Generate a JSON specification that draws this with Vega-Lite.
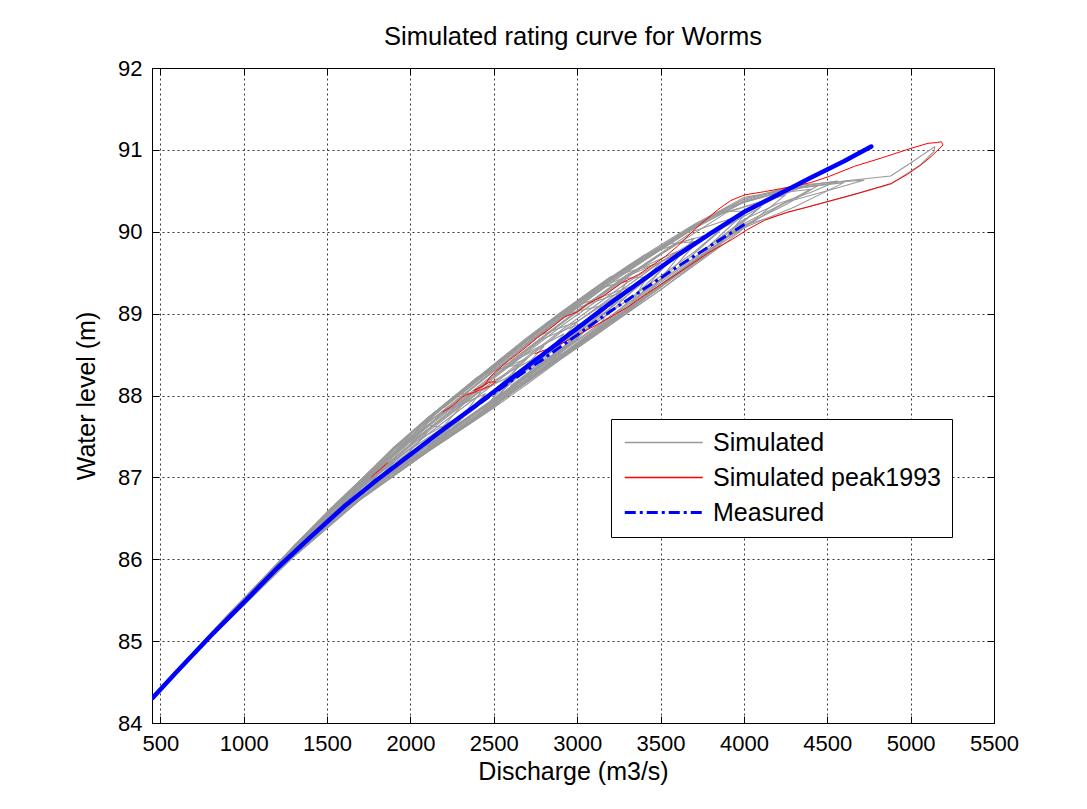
{
  "$schema": "https://vega.github.io/schema/vega-lite/v6.json",
  "autosize": {"type": "none"},
  "padding": {"left": 152, "top": 68, "right": 93, "bottom": 86},
  "width": 842,
  "height": 655,
  "background": "white",
  "title": {
    "text": "Simulated rating curve for Worms",
    "fontSize": 25.5,
    "fontWeight": "normal",
    "color": "black",
    "anchor": "middle",
    "baseline": "bottom",
    "offset": -18
  },
  "datasets": {
    "sim": [
      {"series": "Simulated", "run": "g1", "q": 455, "h": 84.31},
      {"series": "Simulated", "run": "g1", "q": 500, "h": 84.43},
      {"series": "Simulated", "run": "g1", "q": 900, "h": 85.31},
      {"series": "Simulated", "run": "g1", "q": 1300, "h": 86.15},
      {"series": "Simulated", "run": "g1", "q": 1500, "h": 86.48},
      {"series": "Simulated", "run": "g1", "q": 1300, "h": 86.04},
      {"series": "Simulated", "run": "g1", "q": 900, "h": 85.25},
      {"series": "Simulated", "run": "g1", "q": 700, "h": 84.84},

      {"series": "Simulated", "run": "g2", "q": 455, "h": 84.31},
      {"series": "Simulated", "run": "g2", "q": 500, "h": 84.43},
      {"series": "Simulated", "run": "g2", "q": 900, "h": 85.31},
      {"series": "Simulated", "run": "g2", "q": 1100, "h": 85.71},
      {"series": "Simulated", "run": "g2", "q": 1300, "h": 86.16},
      {"series": "Simulated", "run": "g2", "q": 1500, "h": 86.57},
      {"series": "Simulated", "run": "g2", "q": 1700, "h": 86.96},
      {"series": "Simulated", "run": "g2", "q": 1900, "h": 87.18},
      {"series": "Simulated", "run": "g2", "q": 1700, "h": 86.76},
      {"series": "Simulated", "run": "g2", "q": 1300, "h": 86.05},
      {"series": "Simulated", "run": "g2", "q": 900, "h": 85.25},

      {"series": "Simulated", "run": "g3", "q": 500, "h": 84.42},
      {"series": "Simulated", "run": "g3", "q": 900, "h": 85.30},
      {"series": "Simulated", "run": "g3", "q": 1300, "h": 86.14},
      {"series": "Simulated", "run": "g3", "q": 1700, "h": 86.92},
      {"series": "Simulated", "run": "g3", "q": 2100, "h": 87.64},
      {"series": "Simulated", "run": "g3", "q": 2230, "h": 87.60},
      {"series": "Simulated", "run": "g3", "q": 2100, "h": 87.31},
      {"series": "Simulated", "run": "g3", "q": 1700, "h": 86.73},
      {"series": "Simulated", "run": "g3", "q": 1300, "h": 86.03},
      {"series": "Simulated", "run": "g3", "q": 900, "h": 85.24},

      {"series": "Simulated", "run": "g4", "q": 900, "h": 85.31},
      {"series": "Simulated", "run": "g4", "q": 1300, "h": 86.16},
      {"series": "Simulated", "run": "g4", "q": 1500, "h": 86.55},
      {"series": "Simulated", "run": "g4", "q": 1700, "h": 86.96},
      {"series": "Simulated", "run": "g4", "q": 1900, "h": 87.37},
      {"series": "Simulated", "run": "g4", "q": 2100, "h": 87.72},
      {"series": "Simulated", "run": "g4", "q": 2300, "h": 88.02},
      {"series": "Simulated", "run": "g4", "q": 2420, "h": 88.04},
      {"series": "Simulated", "run": "g4", "q": 2300, "h": 87.71},
      {"series": "Simulated", "run": "g4", "q": 2100, "h": 87.38},
      {"series": "Simulated", "run": "g4", "q": 1700, "h": 86.77},
      {"series": "Simulated", "run": "g4", "q": 1300, "h": 86.05},
      {"series": "Simulated", "run": "g4", "q": 900, "h": 85.25},

      {"series": "Simulated", "run": "g5", "q": 900, "h": 85.30},
      {"series": "Simulated", "run": "g5", "q": 1300, "h": 86.14},
      {"series": "Simulated", "run": "g5", "q": 1700, "h": 86.93},
      {"series": "Simulated", "run": "g5", "q": 2100, "h": 87.66},
      {"series": "Simulated", "run": "g5", "q": 2300, "h": 87.98},
      {"series": "Simulated", "run": "g5", "q": 2500, "h": 88.31},
      {"series": "Simulated", "run": "g5", "q": 2650, "h": 88.38},
      {"series": "Simulated", "run": "g5", "q": 2500, "h": 87.87},
      {"series": "Simulated", "run": "g5", "q": 2100, "h": 87.32},
      {"series": "Simulated", "run": "g5", "q": 1700, "h": 86.74},
      {"series": "Simulated", "run": "g5", "q": 1300, "h": 86.04},
      {"series": "Simulated", "run": "g5", "q": 900, "h": 85.24},

      {"series": "Simulated", "run": "g6", "q": 1300, "h": 86.13},
      {"series": "Simulated", "run": "g6", "q": 1700, "h": 86.90},
      {"series": "Simulated", "run": "g6", "q": 2100, "h": 87.61},
      {"series": "Simulated", "run": "g6", "q": 2500, "h": 88.24},
      {"series": "Simulated", "run": "g6", "q": 2700, "h": 88.52},
      {"series": "Simulated", "run": "g6", "q": 2920, "h": 88.75},
      {"series": "Simulated", "run": "g6", "q": 2700, "h": 88.26},
      {"series": "Simulated", "run": "g6", "q": 2500, "h": 87.85},
      {"series": "Simulated", "run": "g6", "q": 2100, "h": 87.31},
      {"series": "Simulated", "run": "g6", "q": 1700, "h": 86.73},
      {"series": "Simulated", "run": "g6", "q": 1300, "h": 86.03},

      {"series": "Simulated", "run": "g7", "q": 1300, "h": 86.15},
      {"series": "Simulated", "run": "g7", "q": 1700, "h": 86.95},
      {"series": "Simulated", "run": "g7", "q": 1900, "h": 87.30},
      {"series": "Simulated", "run": "g7", "q": 2100, "h": 87.69},
      {"series": "Simulated", "run": "g7", "q": 2300, "h": 88.03},
      {"series": "Simulated", "run": "g7", "q": 2500, "h": 88.35},
      {"series": "Simulated", "run": "g7", "q": 2700, "h": 88.68},
      {"series": "Simulated", "run": "g7", "q": 2900, "h": 88.98},
      {"series": "Simulated", "run": "g7", "q": 3150, "h": 89.10},
      {"series": "Simulated", "run": "g7", "q": 2900, "h": 88.51},
      {"series": "Simulated", "run": "g7", "q": 2700, "h": 88.20},
      {"series": "Simulated", "run": "g7", "q": 2500, "h": 87.91},
      {"series": "Simulated", "run": "g7", "q": 2100, "h": 87.35},
      {"series": "Simulated", "run": "g7", "q": 1700, "h": 86.75},

      {"series": "Simulated", "run": "g8", "q": 1700, "h": 86.89},
      {"series": "Simulated", "run": "g8", "q": 2100, "h": 87.58},
      {"series": "Simulated", "run": "g8", "q": 2500, "h": 88.21},
      {"series": "Simulated", "run": "g8", "q": 2900, "h": 88.84},
      {"series": "Simulated", "run": "g8", "q": 3100, "h": 89.13},
      {"series": "Simulated", "run": "g8", "q": 3300, "h": 89.43},
      {"series": "Simulated", "run": "g8", "q": 3420, "h": 89.45},
      {"series": "Simulated", "run": "g8", "q": 3300, "h": 89.04},
      {"series": "Simulated", "run": "g8", "q": 3100, "h": 88.74},
      {"series": "Simulated", "run": "g8", "q": 2900, "h": 88.46},
      {"series": "Simulated", "run": "g8", "q": 2500, "h": 87.87},
      {"series": "Simulated", "run": "g8", "q": 2100, "h": 87.32},

      {"series": "Simulated", "run": "g9", "q": 1700, "h": 86.93},
      {"series": "Simulated", "run": "g9", "q": 2100, "h": 87.66},
      {"series": "Simulated", "run": "g9", "q": 2500, "h": 88.31},
      {"series": "Simulated", "run": "g9", "q": 2900, "h": 88.94},
      {"series": "Simulated", "run": "g9", "q": 3300, "h": 89.52},
      {"series": "Simulated", "run": "g9", "q": 3550, "h": 89.85},
      {"series": "Simulated", "run": "g9", "q": 3720, "h": 89.88},
      {"series": "Simulated", "run": "g9", "q": 3550, "h": 89.49},
      {"series": "Simulated", "run": "g9", "q": 3300, "h": 89.12},
      {"series": "Simulated", "run": "g9", "q": 2900, "h": 88.53},
      {"series": "Simulated", "run": "g9", "q": 2500, "h": 87.93},
      {"series": "Simulated", "run": "g9", "q": 2100, "h": 87.36},

      {"series": "Simulated", "run": "g10", "q": 1700, "h": 86.96},
      {"series": "Simulated", "run": "g10", "q": 1900, "h": 87.36},
      {"series": "Simulated", "run": "g10", "q": 2100, "h": 87.72},
      {"series": "Simulated", "run": "g10", "q": 2300, "h": 88.05},
      {"series": "Simulated", "run": "g10", "q": 2500, "h": 88.38},
      {"series": "Simulated", "run": "g10", "q": 2700, "h": 88.71},
      {"series": "Simulated", "run": "g10", "q": 2900, "h": 89.01},
      {"series": "Simulated", "run": "g10", "q": 3100, "h": 89.30},
      {"series": "Simulated", "run": "g10", "q": 3300, "h": 89.58},
      {"series": "Simulated", "run": "g10", "q": 3500, "h": 89.84},
      {"series": "Simulated", "run": "g10", "q": 3700, "h": 90.09},
      {"series": "Simulated", "run": "g10", "q": 3850, "h": 90.25},
      {"series": "Simulated", "run": "g10", "q": 4020, "h": 90.25},
      {"series": "Simulated", "run": "g10", "q": 3850, "h": 89.82},
      {"series": "Simulated", "run": "g10", "q": 3700, "h": 89.60},
      {"series": "Simulated", "run": "g10", "q": 3500, "h": 89.29},
      {"series": "Simulated", "run": "g10", "q": 3300, "h": 89.01},
      {"series": "Simulated", "run": "g10", "q": 3100, "h": 88.72},
      {"series": "Simulated", "run": "g10", "q": 2900, "h": 88.44},
      {"series": "Simulated", "run": "g10", "q": 2700, "h": 88.14},
      {"series": "Simulated", "run": "g10", "q": 2500, "h": 87.85},
      {"series": "Simulated", "run": "g10", "q": 2100, "h": 87.31},

      {"series": "Simulated", "run": "g11", "q": 2100, "h": 87.70},
      {"series": "Simulated", "run": "g11", "q": 2500, "h": 88.36},
      {"series": "Simulated", "run": "g11", "q": 2900, "h": 88.99},
      {"series": "Simulated", "run": "g11", "q": 3300, "h": 89.56},
      {"series": "Simulated", "run": "g11", "q": 3700, "h": 90.06},
      {"series": "Simulated", "run": "g11", "q": 4000, "h": 90.38},
      {"series": "Simulated", "run": "g11", "q": 4200, "h": 90.50},
      {"series": "Simulated", "run": "g11", "q": 4350, "h": 90.55},
      {"series": "Simulated", "run": "g11", "q": 4200, "h": 90.42},
      {"series": "Simulated", "run": "g11", "q": 4000, "h": 90.22},
      {"series": "Simulated", "run": "g11", "q": 3700, "h": 89.66},
      {"series": "Simulated", "run": "g11", "q": 3300, "h": 89.05},
      {"series": "Simulated", "run": "g11", "q": 2900, "h": 88.47},
      {"series": "Simulated", "run": "g11", "q": 2500, "h": 87.88},

      {"series": "Simulated", "run": "g12", "q": 2500, "h": 88.33},
      {"series": "Simulated", "run": "g12", "q": 2900, "h": 88.96},
      {"series": "Simulated", "run": "g12", "q": 3300, "h": 89.54},
      {"series": "Simulated", "run": "g12", "q": 3700, "h": 90.04},
      {"series": "Simulated", "run": "g12", "q": 4000, "h": 90.36},
      {"series": "Simulated", "run": "g12", "q": 4300, "h": 90.54},
      {"series": "Simulated", "run": "g12", "q": 4560, "h": 90.62},
      {"series": "Simulated", "run": "g12", "q": 4400, "h": 90.48},
      {"series": "Simulated", "run": "g12", "q": 4200, "h": 90.34},
      {"series": "Simulated", "run": "g12", "q": 4000, "h": 90.15},
      {"series": "Simulated", "run": "g12", "q": 3700, "h": 89.68},
      {"series": "Simulated", "run": "g12", "q": 3300, "h": 89.08},
      {"series": "Simulated", "run": "g12", "q": 2900, "h": 88.49},

      {"series": "Simulated", "run": "g13", "q": 2500, "h": 88.35},
      {"series": "Simulated", "run": "g13", "q": 2900, "h": 88.98},
      {"series": "Simulated", "run": "g13", "q": 3300, "h": 89.55},
      {"series": "Simulated", "run": "g13", "q": 3700, "h": 90.07},
      {"series": "Simulated", "run": "g13", "q": 4000, "h": 90.40},
      {"series": "Simulated", "run": "g13", "q": 4300, "h": 90.56},
      {"series": "Simulated", "run": "g13", "q": 4500, "h": 90.60},
      {"series": "Simulated", "run": "g13", "q": 4720, "h": 90.63},
      {"series": "Simulated", "run": "g13", "q": 4500, "h": 90.50},
      {"series": "Simulated", "run": "g13", "q": 4250, "h": 90.36},
      {"series": "Simulated", "run": "g13", "q": 4000, "h": 90.10},
      {"series": "Simulated", "run": "g13", "q": 3700, "h": 89.63},
      {"series": "Simulated", "run": "g13", "q": 3300, "h": 89.02},
      {"series": "Simulated", "run": "g13", "q": 2900, "h": 88.45},

      {"series": "Simulated", "run": "g14", "q": 2500, "h": 88.37},
      {"series": "Simulated", "run": "g14", "q": 2900, "h": 89.00},
      {"series": "Simulated", "run": "g14", "q": 3300, "h": 89.57},
      {"series": "Simulated", "run": "g14", "q": 3700, "h": 90.08},
      {"series": "Simulated", "run": "g14", "q": 4000, "h": 90.42},
      {"series": "Simulated", "run": "g14", "q": 4300, "h": 90.52},
      {"series": "Simulated", "run": "g14", "q": 4600, "h": 90.62},
      {"series": "Simulated", "run": "g14", "q": 4880, "h": 90.68},
      {"series": "Simulated", "run": "g14", "q": 5000, "h": 90.84},
      {"series": "Simulated", "run": "g14", "q": 5145, "h": 91.04},
      {"series": "Simulated", "run": "g14", "q": 5140, "h": 90.98},
      {"series": "Simulated", "run": "g14", "q": 5060, "h": 90.82},
      {"series": "Simulated", "run": "g14", "q": 4880, "h": 90.58},
      {"series": "Simulated", "run": "g14", "q": 4600, "h": 90.42},
      {"series": "Simulated", "run": "g14", "q": 4300, "h": 90.26},
      {"series": "Simulated", "run": "g14", "q": 4000, "h": 90.08},
      {"series": "Simulated", "run": "g14", "q": 3700, "h": 89.64},
      {"series": "Simulated", "run": "g14", "q": 3300, "h": 89.06},
      {"series": "Simulated", "run": "g14", "q": 2900, "h": 88.47},

      {"series": "Simulated", "run": "g15", "q": 1300, "h": 86.11},
      {"series": "Simulated", "run": "g15", "q": 1700, "h": 86.87},
      {"series": "Simulated", "run": "g15", "q": 2100, "h": 87.55},
      {"series": "Simulated", "run": "g15", "q": 2500, "h": 88.18},
      {"series": "Simulated", "run": "g15", "q": 2800, "h": 88.52},
      {"series": "Simulated", "run": "g15", "q": 2500, "h": 87.96},
      {"series": "Simulated", "run": "g15", "q": 2100, "h": 87.39},
      {"series": "Simulated", "run": "g15", "q": 1700, "h": 86.78},

      {"series": "Simulated", "run": "g16", "q": 1700, "h": 86.86},
      {"series": "Simulated", "run": "g16", "q": 2100, "h": 87.52},
      {"series": "Simulated", "run": "g16", "q": 2500, "h": 88.14},
      {"series": "Simulated", "run": "g16", "q": 2900, "h": 88.77},
      {"series": "Simulated", "run": "g16", "q": 3300, "h": 89.30},
      {"series": "Simulated", "run": "g16", "q": 2900, "h": 88.55},
      {"series": "Simulated", "run": "g16", "q": 2500, "h": 87.94},
      {"series": "Simulated", "run": "g16", "q": 2100, "h": 87.37},

      {"series": "Simulated", "run": "g17", "q": 900, "h": 85.29},
      {"series": "Simulated", "run": "g17", "q": 1300, "h": 86.12},
      {"series": "Simulated", "run": "g17", "q": 1700, "h": 86.88},
      {"series": "Simulated", "run": "g17", "q": 2000, "h": 87.32},
      {"series": "Simulated", "run": "g17", "q": 1700, "h": 86.79},
      {"series": "Simulated", "run": "g17", "q": 1300, "h": 86.06},

      {"series": "Simulated", "run": "g18", "q": 1700, "h": 86.91},
      {"series": "Simulated", "run": "g18", "q": 2100, "h": 87.62},
      {"series": "Simulated", "run": "g18", "q": 2500, "h": 88.26},
      {"series": "Simulated", "run": "g18", "q": 2900, "h": 88.87},
      {"series": "Simulated", "run": "g18", "q": 3300, "h": 89.48},
      {"series": "Simulated", "run": "g18", "q": 3600, "h": 89.76},
      {"series": "Simulated", "run": "g18", "q": 3300, "h": 89.05},
      {"series": "Simulated", "run": "g18", "q": 2900, "h": 88.48},
      {"series": "Simulated", "run": "g18", "q": 2500, "h": 87.89},
      {"series": "Simulated", "run": "g18", "q": 2100, "h": 87.33},

      {"series": "Simulated", "run": "g19", "q": 1300, "h": 86.15},
      {"series": "Simulated", "run": "g19", "q": 1700, "h": 86.94},
      {"series": "Simulated", "run": "g19", "q": 2100, "h": 87.68},
      {"series": "Simulated", "run": "g19", "q": 2350, "h": 87.98},
      {"series": "Simulated", "run": "g19", "q": 2100, "h": 87.39},
      {"series": "Simulated", "run": "g19", "q": 1700, "h": 86.78},
      {"series": "Simulated", "run": "g19", "q": 1300, "h": 86.06},

      {"series": "Simulated", "run": "g20", "q": 1500, "h": 86.56},
      {"series": "Simulated", "run": "g20", "q": 1900, "h": 87.33},
      {"series": "Simulated", "run": "g20", "q": 2300, "h": 88.03},
      {"series": "Simulated", "run": "g20", "q": 2700, "h": 88.68},
      {"series": "Simulated", "run": "g20", "q": 3000, "h": 88.90},
      {"series": "Simulated", "run": "g20", "q": 2700, "h": 88.20},
      {"series": "Simulated", "run": "g20", "q": 2300, "h": 87.62},
      {"series": "Simulated", "run": "g20", "q": 1900, "h": 87.06},

      {"series": "Simulated", "run": "g21", "q": 1900, "h": 87.29},
      {"series": "Simulated", "run": "g21", "q": 2300, "h": 87.97},
      {"series": "Simulated", "run": "g21", "q": 2700, "h": 88.62},
      {"series": "Simulated", "run": "g21", "q": 3000, "h": 89.07},
      {"series": "Simulated", "run": "g21", "q": 3250, "h": 89.25},
      {"series": "Simulated", "run": "g21", "q": 3000, "h": 88.69},
      {"series": "Simulated", "run": "g21", "q": 2700, "h": 88.24},
      {"series": "Simulated", "run": "g21", "q": 2300, "h": 87.65},
      {"series": "Simulated", "run": "g21", "q": 1900, "h": 87.07},

      {"series": "Simulated", "run": "g22", "q": 1300, "h": 86.16},
      {"series": "Simulated", "run": "g22", "q": 1500, "h": 86.58},
      {"series": "Simulated", "run": "g22", "q": 1700, "h": 86.97},
      {"series": "Simulated", "run": "g22", "q": 1900, "h": 87.36},
      {"series": "Simulated", "run": "g22", "q": 2100, "h": 87.55},
      {"series": "Simulated", "run": "g22", "q": 1900, "h": 87.10},
      {"series": "Simulated", "run": "g22", "q": 1700, "h": 86.79},
      {"series": "Simulated", "run": "g22", "q": 1500, "h": 86.44},

      {"series": "Simulated", "run": "g23", "q": 2500, "h": 88.24},
      {"series": "Simulated", "run": "g23", "q": 2900, "h": 88.87},
      {"series": "Simulated", "run": "g23", "q": 3300, "h": 89.46},
      {"series": "Simulated", "run": "g23", "q": 3600, "h": 89.86},
      {"series": "Simulated", "run": "g23", "q": 3850, "h": 90.00},
      {"series": "Simulated", "run": "g23", "q": 3600, "h": 89.55},
      {"series": "Simulated", "run": "g23", "q": 3300, "h": 89.10},
      {"series": "Simulated", "run": "g23", "q": 2900, "h": 88.52},
      {"series": "Simulated", "run": "g23", "q": 2500, "h": 87.92},

      {"series": "Simulated", "run": "g24", "q": 2300, "h": 88.02},
      {"series": "Simulated", "run": "g24", "q": 2700, "h": 88.67},
      {"series": "Simulated", "run": "g24", "q": 3100, "h": 89.27},
      {"series": "Simulated", "run": "g24", "q": 3500, "h": 89.80},
      {"series": "Simulated", "run": "g24", "q": 3800, "h": 90.18},
      {"series": "Simulated", "run": "g24", "q": 4150, "h": 90.40},
      {"series": "Simulated", "run": "g24", "q": 3800, "h": 89.76},
      {"series": "Simulated", "run": "g24", "q": 3500, "h": 89.32},
      {"series": "Simulated", "run": "g24", "q": 3100, "h": 88.76},
      {"series": "Simulated", "run": "g24", "q": 2700, "h": 88.17},
      {"series": "Simulated", "run": "g24", "q": 2300, "h": 87.60},

      {"series": "Simulated", "run": "g25", "q": 1700, "h": 86.88},
      {"series": "Simulated", "run": "g25", "q": 2100, "h": 87.57},
      {"series": "Simulated", "run": "g25", "q": 2400, "h": 88.03},
      {"series": "Simulated", "run": "g25", "q": 2600, "h": 88.24},
      {"series": "Simulated", "run": "g25", "q": 2400, "h": 87.72},
      {"series": "Simulated", "run": "g25", "q": 2100, "h": 87.31},
      {"series": "Simulated", "run": "g25", "q": 1700, "h": 86.73},

      {"series": "Simulated", "run": "g26", "q": 2100, "h": 87.72},
      {"series": "Simulated", "run": "g26", "q": 2500, "h": 88.38},
      {"series": "Simulated", "run": "g26", "q": 2900, "h": 89.01},
      {"series": "Simulated", "run": "g26", "q": 3200, "h": 89.45},
      {"series": "Simulated", "run": "g26", "q": 3500, "h": 89.62},
      {"series": "Simulated", "run": "g26", "q": 3200, "h": 89.02},
      {"series": "Simulated", "run": "g26", "q": 2900, "h": 88.57},
      {"series": "Simulated", "run": "g26", "q": 2500, "h": 87.95},
      {"series": "Simulated", "run": "g26", "q": 2100, "h": 87.38},

      {"series": "Simulated", "run": "g27", "q": 2500, "h": 88.16},
      {"series": "Simulated", "run": "g27", "q": 2900, "h": 88.79},
      {"series": "Simulated", "run": "g27", "q": 3300, "h": 89.38},
      {"series": "Simulated", "run": "g27", "q": 3700, "h": 89.88},
      {"series": "Simulated", "run": "g27", "q": 3300, "h": 89.22},
      {"series": "Simulated", "run": "g27", "q": 2900, "h": 88.62},
      {"series": "Simulated", "run": "g27", "q": 2500, "h": 88.00},

      {"series": "Simulated", "run": "g28", "q": 2700, "h": 88.63},
      {"series": "Simulated", "run": "g28", "q": 3100, "h": 89.24},
      {"series": "Simulated", "run": "g28", "q": 3500, "h": 89.78},
      {"series": "Simulated", "run": "g28", "q": 3900, "h": 90.30},
      {"series": "Simulated", "run": "g28", "q": 4200, "h": 90.47},
      {"series": "Simulated", "run": "g28", "q": 4400, "h": 90.52},
      {"series": "Simulated", "run": "g28", "q": 4200, "h": 90.30},
      {"series": "Simulated", "run": "g28", "q": 3900, "h": 89.93},
      {"series": "Simulated", "run": "g28", "q": 3500, "h": 89.34},
      {"series": "Simulated", "run": "g28", "q": 3100, "h": 88.78},
      {"series": "Simulated", "run": "g28", "q": 2700, "h": 88.19},

      {"series": "Simulated", "run": "g29", "q": 1500, "h": 86.54},
      {"series": "Simulated", "run": "g29", "q": 1900, "h": 87.28},
      {"series": "Simulated", "run": "g29", "q": 2200, "h": 87.80},
      {"series": "Simulated", "run": "g29", "q": 2450, "h": 88.02},
      {"series": "Simulated", "run": "g29", "q": 2200, "h": 87.49},
      {"series": "Simulated", "run": "g29", "q": 1900, "h": 87.06},
      {"series": "Simulated", "run": "g29", "q": 1500, "h": 86.42},

      {"series": "Simulated", "run": "g30", "q": 2000, "h": 87.42},
      {"series": "Simulated", "run": "g30", "q": 2400, "h": 88.07},
      {"series": "Simulated", "run": "g30", "q": 2800, "h": 88.70},
      {"series": "Simulated", "run": "g30", "q": 3050, "h": 88.90},
      {"series": "Simulated", "run": "g30", "q": 2800, "h": 88.32},
      {"series": "Simulated", "run": "g30", "q": 2400, "h": 87.74},
      {"series": "Simulated", "run": "g30", "q": 2000, "h": 87.19},

      {"series": "Simulated", "run": "g31", "q": 2200, "h": 87.85},
      {"series": "Simulated", "run": "g31", "q": 2600, "h": 88.49},
      {"series": "Simulated", "run": "g31", "q": 3000, "h": 89.10},
      {"series": "Simulated", "run": "g31", "q": 3350, "h": 89.35},
      {"series": "Simulated", "run": "g31", "q": 3000, "h": 88.70},
      {"series": "Simulated", "run": "g31", "q": 2600, "h": 88.10},
      {"series": "Simulated", "run": "g31", "q": 2200, "h": 87.51},

      {"series": "Simulated", "run": "g32", "q": 1500, "h": 86.50},
      {"series": "Simulated", "run": "g32", "q": 1900, "h": 87.21},
      {"series": "Simulated", "run": "g32", "q": 2250, "h": 87.68},
      {"series": "Simulated", "run": "g32", "q": 1900, "h": 87.07},
      {"series": "Simulated", "run": "g32", "q": 1500, "h": 86.42},

      {"series": "Simulated", "run": "g33", "q": 1600, "h": 86.76},
      {"series": "Simulated", "run": "g33", "q": 2000, "h": 87.53},
      {"series": "Simulated", "run": "g33", "q": 2400, "h": 88.22},
      {"series": "Simulated", "run": "g33", "q": 2700, "h": 88.45},
      {"series": "Simulated", "run": "g33", "q": 2400, "h": 87.86},
      {"series": "Simulated", "run": "g33", "q": 2000, "h": 87.26},
      {"series": "Simulated", "run": "g33", "q": 1600, "h": 86.63},

      {"series": "Simulated", "run": "g34", "q": 2600, "h": 88.42},
      {"series": "Simulated", "run": "g34", "q": 3000, "h": 89.04},
      {"series": "Simulated", "run": "g34", "q": 3400, "h": 89.60},
      {"series": "Simulated", "run": "g34", "q": 3700, "h": 90.01},
      {"series": "Simulated", "run": "g34", "q": 3950, "h": 90.18},
      {"series": "Simulated", "run": "g34", "q": 3700, "h": 89.75},
      {"series": "Simulated", "run": "g34", "q": 3400, "h": 89.31},
      {"series": "Simulated", "run": "g34", "q": 3000, "h": 88.72},
      {"series": "Simulated", "run": "g34", "q": 2600, "h": 88.12},

      {"series": "Simulated", "run": "g35", "q": 2800, "h": 88.85},
      {"series": "Simulated", "run": "g35", "q": 3100, "h": 89.30},
      {"series": "Simulated", "run": "g35", "q": 3400, "h": 89.71},
      {"series": "Simulated", "run": "g35", "q": 3700, "h": 89.92},
      {"series": "Simulated", "run": "g35", "q": 3400, "h": 89.18},
      {"series": "Simulated", "run": "g35", "q": 3100, "h": 88.75},
      {"series": "Simulated", "run": "g35", "q": 2800, "h": 88.31},

      {"series": "Simulated", "run": "g36", "q": 3000, "h": 88.90},
      {"series": "Simulated", "run": "g36", "q": 3500, "h": 89.63},
      {"series": "Simulated", "run": "g36", "q": 4100, "h": 90.30},
      {"series": "Simulated", "run": "g36", "q": 3500, "h": 89.32},
      {"series": "Simulated", "run": "g36", "q": 3000, "h": 88.62},

      {"series": "Simulated", "run": "g37", "q": 1900, "h": 87.34},
      {"series": "Simulated", "run": "g37", "q": 2150, "h": 87.80},
      {"series": "Simulated", "run": "g37", "q": 2400, "h": 88.21},
      {"series": "Simulated", "run": "g37", "q": 2650, "h": 88.61},
      {"series": "Simulated", "run": "g37", "q": 2900, "h": 89.00},
      {"series": "Simulated", "run": "g37", "q": 3100, "h": 89.29},
      {"series": "Simulated", "run": "g37", "q": 3300, "h": 89.40},
      {"series": "Simulated", "run": "g37", "q": 3100, "h": 88.74},
      {"series": "Simulated", "run": "g37", "q": 2900, "h": 88.45},
      {"series": "Simulated", "run": "g37", "q": 2650, "h": 88.09},
      {"series": "Simulated", "run": "g37", "q": 2400, "h": 87.73},
      {"series": "Simulated", "run": "g37", "q": 2150, "h": 87.39},
      {"series": "Simulated", "run": "g37", "q": 1900, "h": 87.04},

      {"series": "Simulated", "run": "g38", "q": 2900, "h": 88.97},
      {"series": "Simulated", "run": "g38", "q": 3300, "h": 89.55},
      {"series": "Simulated", "run": "g38", "q": 3700, "h": 90.07},
      {"series": "Simulated", "run": "g38", "q": 4000, "h": 90.40},
      {"series": "Simulated", "run": "g38", "q": 4250, "h": 90.52},
      {"series": "Simulated", "run": "g38", "q": 4450, "h": 90.57},
      {"series": "Simulated", "run": "g38", "q": 4250, "h": 90.33},
      {"series": "Simulated", "run": "g38", "q": 4000, "h": 90.08},
      {"series": "Simulated", "run": "g38", "q": 3700, "h": 89.64},
      {"series": "Simulated", "run": "g38", "q": 3300, "h": 89.05},
      {"series": "Simulated", "run": "g38", "q": 2900, "h": 88.47},

      {"series": "Simulated", "run": "g39", "q": 3300, "h": 89.52},
      {"series": "Simulated", "run": "g39", "q": 3700, "h": 90.04},
      {"series": "Simulated", "run": "g39", "q": 4000, "h": 90.37},
      {"series": "Simulated", "run": "g39", "q": 4300, "h": 90.53},
      {"series": "Simulated", "run": "g39", "q": 4600, "h": 90.60},
      {"series": "Simulated", "run": "g39", "q": 4300, "h": 90.30},
      {"series": "Simulated", "run": "g39", "q": 4000, "h": 90.05},
      {"series": "Simulated", "run": "g39", "q": 3700, "h": 89.62},
      {"series": "Simulated", "run": "g39", "q": 3300, "h": 89.03},

      {"series": "Simulated", "run": "g40", "q": 1300, "h": 86.12},
      {"series": "Simulated", "run": "g40", "q": 1700, "h": 86.89},
      {"series": "Simulated", "run": "g40", "q": 2000, "h": 87.40},
      {"series": "Simulated", "run": "g40", "q": 2300, "h": 87.75},
      {"series": "Simulated", "run": "g40", "q": 2000, "h": 87.25},
      {"series": "Simulated", "run": "g40", "q": 1700, "h": 86.79},
      {"series": "Simulated", "run": "g40", "q": 1300, "h": 86.07},

      {"series": "Simulated", "run": "g41", "q": 1800, "h": 87.16},
      {"series": "Simulated", "run": "g41", "q": 2100, "h": 87.72},
      {"series": "Simulated", "run": "g41", "q": 2400, "h": 88.22},
      {"series": "Simulated", "run": "g41", "q": 2800, "h": 88.60},
      {"series": "Simulated", "run": "g41", "q": 2400, "h": 87.72},
      {"series": "Simulated", "run": "g41", "q": 2100, "h": 87.31},
      {"series": "Simulated", "run": "g41", "q": 1800, "h": 86.88},

      {"series": "Simulated", "run": "g42", "q": 2400, "h": 88.14},
      {"series": "Simulated", "run": "g42", "q": 2800, "h": 88.77},
      {"series": "Simulated", "run": "g42", "q": 3200, "h": 89.37},
      {"series": "Simulated", "run": "g42", "q": 3600, "h": 89.72},
      {"series": "Simulated", "run": "g42", "q": 3200, "h": 88.94},
      {"series": "Simulated", "run": "g42", "q": 2800, "h": 88.35},
      {"series": "Simulated", "run": "g42", "q": 2400, "h": 87.76},

      {"series": "Simulated", "run": "g43", "q": 1000, "h": 85.51},
      {"series": "Simulated", "run": "g43", "q": 1300, "h": 86.16},
      {"series": "Simulated", "run": "g43", "q": 1600, "h": 86.75},
      {"series": "Simulated", "run": "g43", "q": 1800, "h": 87.02},
      {"series": "Simulated", "run": "g43", "q": 1600, "h": 86.60},
      {"series": "Simulated", "run": "g43", "q": 1300, "h": 86.05},
      {"series": "Simulated", "run": "g43", "q": 1000, "h": 85.45},

      {"series": "Simulated", "run": "g44", "q": 3000, "h": 89.02},
      {"series": "Simulated", "run": "g44", "q": 3500, "h": 89.72},
      {"series": "Simulated", "run": "g44", "q": 3900, "h": 90.24},
      {"series": "Simulated", "run": "g44", "q": 4250, "h": 90.45},
      {"series": "Simulated", "run": "g44", "q": 3900, "h": 89.88},
      {"series": "Simulated", "run": "g44", "q": 3500, "h": 89.29},
      {"series": "Simulated", "run": "g44", "q": 3000, "h": 88.58}
    ],
    "peak": [
      {"series": "Simulated peak1993", "run": "r1", "q": 2194, "h": 87.80},
      {"series": "Simulated peak1993", "run": "r1", "q": 2250, "h": 87.87},
      {"series": "Simulated peak1993", "run": "r1", "q": 2324, "h": 88.00},
      {"series": "Simulated peak1993", "run": "r1", "q": 2370, "h": 88.03},
      {"series": "Simulated peak1993", "run": "r1", "q": 2420, "h": 88.07},
      {"series": "Simulated peak1993", "run": "r1", "q": 2480, "h": 88.12},
      {"series": "Simulated peak1993", "run": "r1", "q": 2510, "h": 88.17},
      {"series": "Simulated peak1993", "run": "r1", "q": 2470, "h": 88.16},
      {"series": "Simulated peak1993", "run": "r1", "q": 2420, "h": 88.10},
      {"series": "Simulated peak1993", "run": "r1", "q": 2380, "h": 88.06},
      {"series": "Simulated peak1993", "run": "r1", "q": 2440, "h": 88.12},
      {"series": "Simulated peak1993", "run": "r1", "q": 2484, "h": 88.24},
      {"series": "Simulated peak1993", "run": "r1", "q": 2560, "h": 88.38},
      {"series": "Simulated peak1993", "run": "r1", "q": 2644, "h": 88.51},
      {"series": "Simulated peak1993", "run": "r1", "q": 2700, "h": 88.60},
      {"series": "Simulated peak1993", "run": "r1", "q": 2764, "h": 88.71},
      {"series": "Simulated peak1993", "run": "r1", "q": 2840, "h": 88.82},
      {"series": "Simulated peak1993", "run": "r1", "q": 2924, "h": 88.96},
      {"series": "Simulated peak1993", "run": "r1", "q": 3000, "h": 89.02},
      {"series": "Simulated peak1993", "run": "r1", "q": 3064, "h": 89.12},
      {"series": "Simulated peak1993", "run": "r1", "q": 3160, "h": 89.22},
      {"series": "Simulated peak1993", "run": "r1", "q": 3264, "h": 89.37},
      {"series": "Simulated peak1993", "run": "r1", "q": 3370, "h": 89.48},
      {"series": "Simulated peak1993", "run": "r1", "q": 3464, "h": 89.61},
      {"series": "Simulated peak1993", "run": "r1", "q": 3530, "h": 89.70},
      {"series": "Simulated peak1993", "run": "r1", "q": 3600, "h": 89.82},
      {"series": "Simulated peak1993", "run": "r1", "q": 3670, "h": 89.96},
      {"series": "Simulated peak1993", "run": "r1", "q": 3744, "h": 90.10},
      {"series": "Simulated peak1993", "run": "r1", "q": 3844, "h": 90.27},
      {"series": "Simulated peak1993", "run": "r1", "q": 3920, "h": 90.38},
      {"series": "Simulated peak1993", "run": "r1", "q": 4004, "h": 90.45},
      {"series": "Simulated peak1993", "run": "r1", "q": 4124, "h": 90.49},
      {"series": "Simulated peak1993", "run": "r1", "q": 4284, "h": 90.55},
      {"series": "Simulated peak1993", "run": "r1", "q": 4400, "h": 90.60},
      {"series": "Simulated peak1993", "run": "r1", "q": 4504, "h": 90.67},
      {"series": "Simulated peak1993", "run": "r1", "q": 4664, "h": 90.80},
      {"series": "Simulated peak1993", "run": "r1", "q": 4824, "h": 90.90},
      {"series": "Simulated peak1993", "run": "r1", "q": 5004, "h": 91.02},
      {"series": "Simulated peak1993", "run": "r1", "q": 5104, "h": 91.08},
      {"series": "Simulated peak1993", "run": "r1", "q": 5160, "h": 91.09},
      {"series": "Simulated peak1993", "run": "r1", "q": 5184, "h": 91.10},
      {"series": "Simulated peak1993", "run": "r1", "q": 5194, "h": 91.06},
      {"series": "Simulated peak1993", "run": "r1", "q": 5124, "h": 90.92},
      {"series": "Simulated peak1993", "run": "r1", "q": 5064, "h": 90.82},
      {"series": "Simulated peak1993", "run": "r1", "q": 4980, "h": 90.70},
      {"series": "Simulated peak1993", "run": "r1", "q": 4884, "h": 90.59},
      {"series": "Simulated peak1993", "run": "r1", "q": 4684, "h": 90.47},
      {"series": "Simulated peak1993", "run": "r1", "q": 4504, "h": 90.37},
      {"series": "Simulated peak1993", "run": "r1", "q": 4380, "h": 90.30},
      {"series": "Simulated peak1993", "run": "r1", "q": 4264, "h": 90.24},
      {"series": "Simulated peak1993", "run": "r1", "q": 4124, "h": 90.14},
      {"series": "Simulated peak1993", "run": "r1", "q": 4024, "h": 90.03},
      {"series": "Simulated peak1993", "run": "r1", "q": 3924, "h": 89.90},
      {"series": "Simulated peak1993", "run": "r1", "q": 3784, "h": 89.74},
      {"series": "Simulated peak1993", "run": "r1", "q": 3624, "h": 89.52},
      {"series": "Simulated peak1993", "run": "r1", "q": 3504, "h": 89.36},
      {"series": "Simulated peak1993", "run": "r1", "q": 3400, "h": 89.22},
      {"series": "Simulated peak1993", "run": "r1", "q": 3304, "h": 89.08},
      {"series": "Simulated peak1993", "run": "r1", "q": 3150, "h": 88.90},
      {"series": "Simulated peak1993", "run": "r1", "q": 3004, "h": 88.74},
      {"series": "Simulated peak1993", "run": "r1", "q": 2884, "h": 88.61},
      {"series": "Simulated peak1993", "run": "r1", "q": 2744, "h": 88.51},
      {"series": "Simulated peak1993", "run": "r2", "q": 1764, "h": 87.00},
      {"series": "Simulated peak1993", "run": "r2", "q": 1790, "h": 87.05},
      {"series": "Simulated peak1993", "run": "r2", "q": 1820, "h": 87.10},
      {"series": "Simulated peak1993", "run": "r2", "q": 1864, "h": 87.18}
    ],
    "meas": [
      {"series": "Measured", "run": "rise", "q": 455, "h": 84.31},
      {"series": "Measured", "run": "rise", "q": 600, "h": 84.63},
      {"series": "Measured", "run": "rise", "q": 800, "h": 85.06},
      {"series": "Measured", "run": "rise", "q": 1000, "h": 85.47},
      {"series": "Measured", "run": "rise", "q": 1200, "h": 85.89},
      {"series": "Measured", "run": "rise", "q": 1400, "h": 86.27},
      {"series": "Measured", "run": "rise", "q": 1600, "h": 86.64},
      {"series": "Measured", "run": "rise", "q": 1800, "h": 86.97},
      {"series": "Measured", "run": "rise", "q": 2000, "h": 87.28},
      {"series": "Measured", "run": "rise", "q": 2200, "h": 87.59},
      {"series": "Measured", "run": "rise", "q": 2400, "h": 87.89},
      {"series": "Measured", "run": "rise", "q": 2600, "h": 88.20},
      {"series": "Measured", "run": "rise", "q": 2800, "h": 88.51},
      {"series": "Measured", "run": "rise", "q": 3000, "h": 88.82},
      {"series": "Measured", "run": "rise", "q": 3200, "h": 89.13},
      {"series": "Measured", "run": "rise", "q": 3400, "h": 89.42},
      {"series": "Measured", "run": "rise", "q": 3600, "h": 89.71},
      {"series": "Measured", "run": "rise", "q": 3800, "h": 89.98},
      {"series": "Measured", "run": "rise", "q": 4000, "h": 90.24},
      {"series": "Measured", "run": "rise", "q": 4200, "h": 90.45},
      {"series": "Measured", "run": "rise", "q": 4400, "h": 90.66},
      {"series": "Measured", "run": "rise", "q": 4600, "h": 90.86},
      {"series": "Measured", "run": "rise", "q": 4764, "h": 91.04},
      {"series": "Measured", "run": "fall", "q": 4004, "h": 90.09},
      {"series": "Measured", "run": "fall", "q": 3800, "h": 89.83},
      {"series": "Measured", "run": "fall", "q": 3600, "h": 89.57},
      {"series": "Measured", "run": "fall", "q": 3400, "h": 89.30},
      {"series": "Measured", "run": "fall", "q": 3200, "h": 89.03},
      {"series": "Measured", "run": "fall", "q": 3000, "h": 88.74},
      {"series": "Measured", "run": "fall", "q": 2800, "h": 88.45},
      {"series": "Measured", "run": "fall", "q": 2600, "h": 88.17},
      {"series": "Measured", "run": "fall", "q": 2400, "h": 87.88}
    ]
  },
  "layer": [
    {
      "layer": [
        {
          "data": {"name": "sim"},
          "mark": {"type": "line", "strokeWidth": 1.1, "strokeJoin": "round", "clip": true},
          "encoding": {
            "x": {"field": "q", "type": "quantitative"},
            "y": {"field": "h", "type": "quantitative"},
            "detail": {"field": "run"},
            "order": {"value": null},
            "color": {"field": "series", "type": "nominal"}
          }
        },
        {
          "data": {"name": "peak"},
          "mark": {"type": "line", "strokeWidth": 1, "strokeJoin": "round", "clip": true},
          "encoding": {
            "x": {"field": "q", "type": "quantitative"},
            "y": {"field": "h", "type": "quantitative"},
            "detail": {"field": "run"},
            "order": {"value": null},
            "color": {"field": "series", "type": "nominal"}
          }
        },
        {
          "data": {"name": "meas"},
          "mark": {"type": "line", "strokeWidth": 3, "strokeDash": [11, 4, 3, 4], "clip": true},
          "encoding": {
            "x": {
              "field": "q",
              "type": "quantitative",
              "scale": {"domain": [450, 5500], "nice": false, "zero": false},
              "axis": {
                "orient": "bottom",
                "title": "Discharge (m3/s)",
                "values": [500, 1000, 1500, 2000, 2500, 3000, 3500, 4000, 4500, 5000, 5500],
                "format": "d",
                "grid": true,
                "labelFlush": false,
                "labelOverlap": false
              }
            },
            "y": {
              "field": "h",
              "type": "quantitative",
              "scale": {"domain": [84, 92], "nice": false, "zero": false},
              "axis": {
                "orient": "left",
                "title": "Water level (m)",
                "values": [84, 85, 86, 87, 88, 89, 90, 91, 92],
                "format": "d",
                "grid": true,
                "labelFlush": false,
                "labelOverlap": false
              }
            },
            "detail": {"field": "run"},
            "order": {"value": null},
            "color": {
              "field": "series",
              "type": "nominal",
              "scale": {
                "domain": ["Simulated", "Simulated peak1993", "Measured"],
                "range": ["#999999", "#ff0000", "#0000ff"]
              },
              "legend": {
                "title": null,
                "orient": "none",
                "legendX": 459,
                "legendY": 351,
                "encode": {
                  "symbols": {
                    "update": {
                      "stroke": {"signal": "datum.value === 'Measured' ? '#0000ff' : datum.value === 'Simulated' ? '#a6a6a6' : '#ff3333'"},
                      "strokeWidth": {"signal": "datum.value === 'Measured' ? 3 : 1.6"},
                      "strokeDash": {"signal": "datum.value === 'Measured' ? [11, 4, 3, 4] : [1, 0]"}
                    }
                  }
                }
              }
            }
          }
        }
      ]
    },
    {
      "data": {"name": "meas"},
      "transform": [{"filter": {"field": "run", "equal": "rise"}}],
      "mark": {"type": "line", "color": "#0000ff", "strokeWidth": 4.5, "strokeCap": "round", "strokeJoin": "round", "clip": true},
      "encoding": {
        "x": {
          "field": "q",
          "type": "quantitative",
          "axis": {
            "orient": "top",
            "title": null,
            "labels": false,
            "grid": false,
            "values": [500, 1000, 1500, 2000, 2500, 3000, 3500, 4000, 4500, 5000, 5500]
          }
        },
        "y": {
          "field": "h",
          "type": "quantitative",
          "axis": {
            "orient": "right",
            "title": null,
            "labels": false,
            "grid": false,
            "values": [84, 85, 86, 87, 88, 89, 90, 91, 92]
          }
        },
        "order": {"value": null}
      }
    }
  ],
  "resolve": {"axis": {"x": "independent", "y": "independent"}},
  "config": {
    "font": "Liberation Sans",
    "view": {"stroke": "black", "strokeWidth": 1},
    "axis": {
      "domainColor": "black",
      "domainWidth": 1,
      "tickColor": "black",
      "tickSize": -7,
      "tickWidth": 1,
      "labelFont": "Liberation Sans",
      "labelFontSize": 22,
      "labelColor": "black",
      "labelPadding": 17,
      "titleFont": "Liberation Sans",
      "titleFontSize": 25,
      "titleFontWeight": "normal",
      "titleColor": "black",
      "gridColor": "#222222",
      "gridDash": [2, 3],
      "gridWidth": 1,
      "gridOpacity": 0.9
    },
    "axisX": {"titlePadding": 5},
    "axisY": {"titlePadding": 18},
    "legend": {
      "strokeColor": "black",
      "fillColor": "white",
      "padding": 11,
      "symbolType": "M-1,0H7",
      "symbolSize": 380,
      "labelFont": "Liberation Sans",
      "labelFontSize": 25,
      "labelColor": "black",
      "labelOffset": 66,
      "labelLimit": 400,
      "rowPadding": 9,
      "cornerRadius": 0
    }
  }
}
